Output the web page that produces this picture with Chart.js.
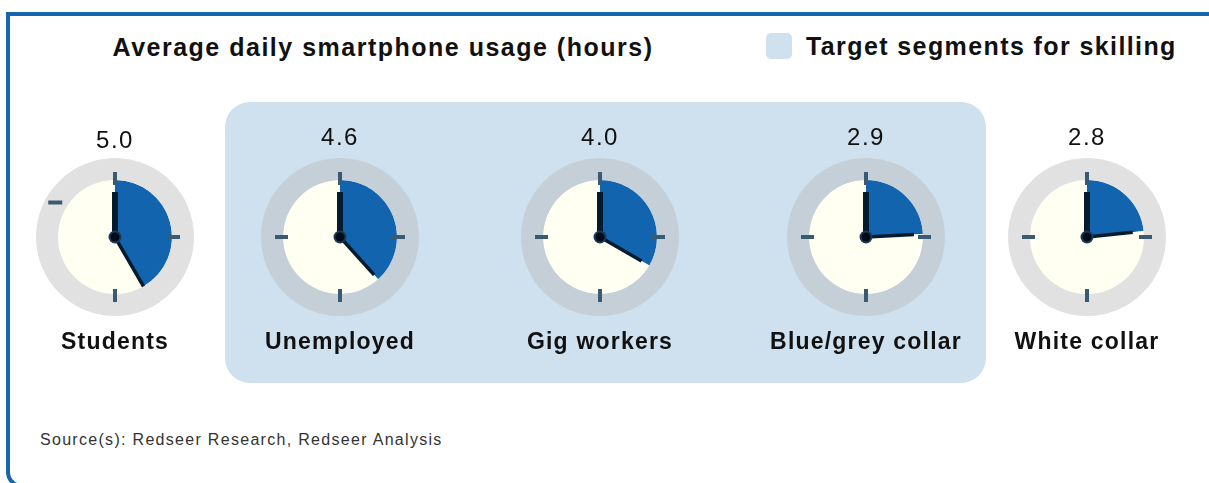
<!DOCTYPE html>
<html>
<head>
<meta charset="utf-8">
<script src="https://cdn.jsdelivr.net/npm/chart.js@4/dist/chart.umd.min.js"></script>
<style>
  html, body { margin: 0; padding: 0; }
  body {
    width: 1209px; height: 483px; overflow: hidden; position: relative;
    background: #fff; font-family: "Liberation Sans", Arial, sans-serif; color: #111;
  }
  .frame {
    position: absolute; left: 6px; top: 12px; width: 1240px; height: 468px;
    border-left: 4px solid #1565b0; border-top: 4px solid #1565b0; border-bottom: 4px solid #1565b0;
    border-bottom-left-radius: 16px;
  }
  .highlight {
    position: absolute; left: 225px; top: 102px; width: 761px; height: 281px;
    background: #cfe0ee; border-radius: 25px;
  }
  .title {
    position: absolute; left: 383px; top: 47px; transform: translate(-50%, -50%);
    font-size: 25px; font-weight: 600; letter-spacing: 1.5px; white-space: nowrap;
  }
  .legend-box {
    position: absolute; left: 766px; top: 33px; width: 26px; height: 26px;
    background: #cfe0ee; border-radius: 5px;
  }
  .legend-text {
    position: absolute; left: 806px; top: 46px; transform: translateY(-50%);
    font-size: 25px; font-weight: 600; letter-spacing: 1.4px; white-space: nowrap;
  }
  .clock { position: absolute; width: 200px; height: 200px; }
  .value {
    position: absolute; transform: translate(-50%, -50%);
    font-size: 24px; letter-spacing: 1.5px; white-space: nowrap;
  }
  .name {
    position: absolute; transform: translate(-50%, -50%);
    font-size: 23px; font-weight: bold; letter-spacing: 1.2px; white-space: nowrap;
  }
  .source {
    position: absolute; left: 40px; top: 440px; transform: translateY(-50%);
    font-size: 16px; letter-spacing: 1.3px; color: #333; white-space: nowrap;
  }
</style>
</head>
<body>
<div class="frame"></div>
<div class="highlight"></div>
<div class="title">Average daily smartphone usage (hours)</div>
<div class="legend-box"></div>
<div class="legend-text">Target segments for skilling</div>
<div class="source">Source(s): Redseer Research, Redseer Analysis</div>

<script>
// -----------------------------
// DATA
// -----------------------------
const segments = ['Students', 'Unemployed', 'Gig workers', 'Blue/grey collar', 'White collar'];
const hours = [5.0, 4.6, 4.0, 2.9, 2.8];
const isTarget = [false, true, true, true, false];
const dialHours = 12;

// layout of the row of clocks
const clockX = [115, 340, 600, 866, 1087];
const clockY = 237;
const valueY = [140, 137, 137, 137, 137];
const nameY = 341;

const BLUE = '#1264ae';
const FACE = '#fffff2';
const TICK = '#3a5a72';
const HAND = '#041a2d';

// -----------------------------
// CLOCK FACE PLUGIN (ticks + hands)
// -----------------------------
const clockFace = {
    id: 'clockFace',
    afterDatasetsDraw(chart, args, opts) {
        const ctx = chart.ctx;
        const arc = chart.getDatasetMeta(1).data[0];
        const cx = arc.x, cy = arc.y;
        const r = arc.outerRadius;

        ctx.save();
        ctx.lineCap = 'butt';

        // hour ticks at 12, 3, 6, 9
        ctx.strokeStyle = TICK;
        ctx.lineWidth = 4;
        [0, 90, 180, 270].forEach(deg => {
            if (opts.oddTick && deg === 270) return;
            const a = (deg - 90) * Math.PI / 180;
            ctx.beginPath();
            ctx.moveTo(cx + Math.cos(a) * (r - 5), cy + Math.sin(a) * (r - 5));
            ctx.lineTo(cx + Math.cos(a) * (r + 8), cy + Math.sin(a) * (r + 8));
            ctx.stroke();
        });
        if (opts.oddTick) {
            // stray tick sitting at ten o'clock
            const a = (300 - 90) * Math.PI / 180;
            const tx = cx + Math.cos(a) * 69, ty = cy + Math.sin(a) * 69;
            ctx.beginPath();
            ctx.moveTo(tx - 7, ty);
            ctx.lineTo(tx + 7, ty);
            ctx.stroke();
        }

        // hour hand pointing to 12
        ctx.strokeStyle = HAND;
        ctx.lineWidth = 6;
        ctx.beginPath();
        ctx.moveTo(cx, cy);
        ctx.lineTo(cx, cy - 45);
        ctx.stroke();

        // minute hand follows the end of the usage slice
        const end = arc.endAngle;
        ctx.lineWidth = 3.5;
        ctx.beginPath();
        ctx.moveTo(cx, cy);
        ctx.lineTo(cx + Math.cos(end) * opts.handLen, cy + Math.sin(end) * opts.handLen);
        ctx.stroke();

        // centre pin
        ctx.fillStyle = '#1b3a57';
        ctx.beginPath();
        ctx.arc(cx, cy, 6.5, 0, Math.PI * 2);
        ctx.fill();
        ctx.fillStyle = '#000c18';
        ctx.beginPath();
        ctx.arc(cx, cy, 4.5, 0, Math.PI * 2);
        ctx.fill();

        ctx.restore();
    }
};

const handLens = [57, 51, 48, 48, 46];

segments.forEach((name, i) => {
    const wrap = document.createElement('div');
    wrap.className = 'clock';
    wrap.style.left = (clockX[i] - 100) + 'px';
    wrap.style.top = (clockY - 100) + 'px';
    const canvas = document.createElement('canvas');
    wrap.appendChild(canvas);
    document.body.appendChild(wrap);

    const val = document.createElement('div');
    val.className = 'value';
    val.style.left = clockX[i] + 'px';
    val.style.top = valueY[i] + 'px';
    val.innerText = hours[i].toFixed(1);
    document.body.appendChild(val);

    const lab = document.createElement('div');
    lab.className = 'name';
    lab.style.left = clockX[i] + 'px';
    lab.style.top = nameY + 'px';
    lab.innerText = name;
    document.body.appendChild(lab);

    new Chart(canvas, {
        type: 'pie',
        data: {
            labels: ['Usage', 'Rest'],
            datasets: [
                {
                    // outer bezel
                    data: [dialHours],
                    backgroundColor: [isTarget[i] ? '#c5cfd8' : '#e1e1e1'],
                    borderWidth: 0,
                    weight: 22
                },
                {
                    data: [hours[i], dialHours - hours[i]],
                    backgroundColor: [BLUE, FACE],
                    borderWidth: 0,
                    weight: 57
                }
            ]
        },
        options: {
            responsive: true,
            maintainAspectRatio: false,
            animation: false,
            events: [],
            layout: { padding: 21 },
            plugins: {
                legend: { display: false },
                tooltip: { enabled: false },
                clockFace: { oddTick: i === 0, handLen: handLens[i] }
            }
        },
        plugins: [clockFace]
    });
});
</script>
</body>
</html>
